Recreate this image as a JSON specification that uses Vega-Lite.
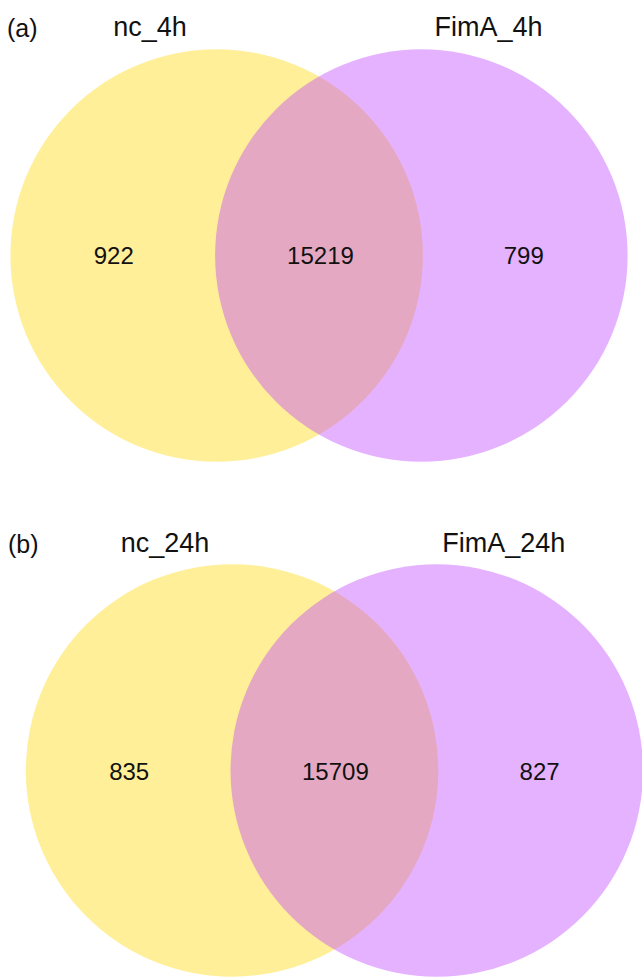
{
  "$schema": "https://vega.github.io/schema/vega-lite/v6.json",
  "width": 642,
  "height": 977,
  "padding": 0,
  "autosize": {"type": "fit", "contains": "padding"},
  "background": "white",
  "config": {"view": {"stroke": null}},
  "datasets": {
    "circles": [
      {"panel": "a", "set": "nc_4h", "group": "nc", "cx": 218, "cy": 256},
      {"panel": "a", "set": "FimA_4h", "group": "FimA", "cx": 424, "cy": 256},
      {"panel": "b", "set": "nc_24h", "group": "nc", "cx": 233.5, "cy": 772},
      {"panel": "b", "set": "FimA_24h", "group": "FimA", "cx": 439.5, "cy": 772}
    ],
    "counts": [
      {"panel": "a", "region": "nc_4h only", "count": 922, "x": 114.5, "y": 265},
      {"panel": "a", "region": "both", "count": 15219, "x": 322.5, "y": 265},
      {"panel": "a", "region": "FimA_4h only", "count": 799, "x": 527, "y": 265},
      {"panel": "b", "region": "nc_24h only", "count": 835, "x": 130, "y": 782},
      {"panel": "b", "region": "both", "count": 15709, "x": 337.5, "y": 782},
      {"panel": "b", "region": "FimA_24h only", "count": 827, "x": 543, "y": 782}
    ],
    "labels": [
      {"label": "nc_4h", "x": 151, "y": 36},
      {"label": "FimA_4h", "x": 491.5, "y": 36},
      {"label": "nc_24h", "x": 166, "y": 553},
      {"label": "FimA_24h", "x": 507, "y": 553}
    ],
    "tags": [
      {"tag": "(a)", "x": 7, "y": 37},
      {"tag": "(b)", "x": 8, "y": 554}
    ]
  },
  "layer": [
    {
      "data": {"name": "circles"},
      "mark": {"type": "point", "shape": "circle", "filled": true, "size": 170156, "opacity": 0.4, "strokeWidth": 0},
      "encoding": {
        "x": {"field": "cx", "type": "quantitative", "scale": {"domain": [0, 642], "nice": false, "zero": false}, "axis": null},
        "y": {"field": "cy", "type": "quantitative", "scale": {"domain": [0, 977], "nice": false, "zero": false, "reverse": true}, "axis": null},
        "color": {"field": "group", "type": "nominal", "scale": {"domain": ["nc", "FimA"], "range": ["#FFD700", "#BF3EFF"]}, "legend": null}
      }
    },
    {
      "data": {"name": "counts"},
      "mark": {"type": "text", "font": "Liberation Sans", "fontSize": 24, "align": "center", "baseline": "alphabetic", "color": "#111111"},
      "encoding": {
        "x": {"field": "x", "type": "quantitative"},
        "y": {"field": "y", "type": "quantitative"},
        "text": {"field": "count", "type": "quantitative", "format": "d"}
      }
    },
    {
      "data": {"name": "labels"},
      "mark": {"type": "text", "font": "Liberation Sans", "fontSize": 27, "align": "center", "baseline": "alphabetic", "color": "#111111"},
      "encoding": {
        "x": {"field": "x", "type": "quantitative"},
        "y": {"field": "y", "type": "quantitative"},
        "text": {"field": "label", "type": "nominal"}
      }
    },
    {
      "data": {"name": "tags"},
      "mark": {"type": "text", "font": "Liberation Sans", "fontSize": 25, "align": "left", "baseline": "alphabetic", "color": "#111111"},
      "encoding": {
        "x": {"field": "x", "type": "quantitative"},
        "y": {"field": "y", "type": "quantitative"},
        "text": {"field": "tag", "type": "nominal"}
      }
    }
  ]
}
